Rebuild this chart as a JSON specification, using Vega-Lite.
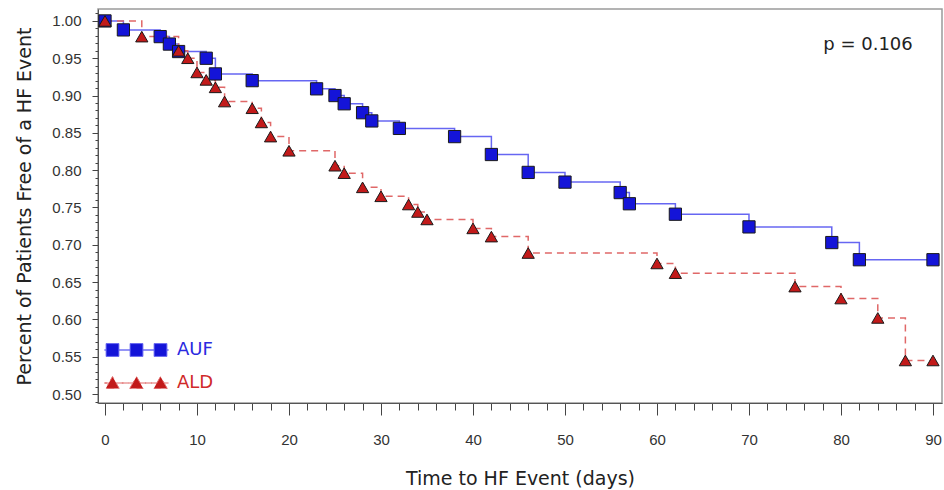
{
  "$schema": "https://vega.github.io/schema/vega-lite/v6.json",
  "width": 844,
  "height": 394,
  "autosize": {"type": "none"},
  "padding": {"left": 98, "top": 9, "right": 2, "bottom": 87},
  "background": "white",
  "config": {
    "view": {"stroke": "#9a9a9a", "strokeWidth": 1.5},
    "font": "Liberation Sans"
  },
  "datasets": {
    "km": [
      {"group": "AUF", "t": 0, "s": 1.0},
      {"group": "AUF", "t": 2, "s": 0.988},
      {"group": "AUF", "t": 6, "s": 0.979},
      {"group": "AUF", "t": 7, "s": 0.969},
      {"group": "AUF", "t": 8, "s": 0.959},
      {"group": "AUF", "t": 11, "s": 0.95},
      {"group": "AUF", "t": 12, "s": 0.929},
      {"group": "AUF", "t": 16, "s": 0.92},
      {"group": "AUF", "t": 23, "s": 0.909},
      {"group": "AUF", "t": 25, "s": 0.9},
      {"group": "AUF", "t": 26, "s": 0.889},
      {"group": "AUF", "t": 28, "s": 0.877},
      {"group": "AUF", "t": 29, "s": 0.866},
      {"group": "AUF", "t": 32, "s": 0.856},
      {"group": "AUF", "t": 38, "s": 0.845},
      {"group": "AUF", "t": 42, "s": 0.821},
      {"group": "AUF", "t": 46, "s": 0.797},
      {"group": "AUF", "t": 50, "s": 0.784},
      {"group": "AUF", "t": 56, "s": 0.77},
      {"group": "AUF", "t": 57, "s": 0.755},
      {"group": "AUF", "t": 62, "s": 0.741},
      {"group": "AUF", "t": 70, "s": 0.724},
      {"group": "AUF", "t": 79, "s": 0.703},
      {"group": "AUF", "t": 82, "s": 0.68},
      {"group": "AUF", "t": 90, "s": 0.68},
      {"group": "ALD", "t": 0, "s": 1.0},
      {"group": "ALD", "t": 4, "s": 0.979},
      {"group": "ALD", "t": 8, "s": 0.96},
      {"group": "ALD", "t": 9, "s": 0.95},
      {"group": "ALD", "t": 10, "s": 0.931},
      {"group": "ALD", "t": 11, "s": 0.921},
      {"group": "ALD", "t": 12, "s": 0.911},
      {"group": "ALD", "t": 13, "s": 0.892},
      {"group": "ALD", "t": 16, "s": 0.883},
      {"group": "ALD", "t": 17, "s": 0.864},
      {"group": "ALD", "t": 18, "s": 0.845},
      {"group": "ALD", "t": 20, "s": 0.826},
      {"group": "ALD", "t": 25, "s": 0.806},
      {"group": "ALD", "t": 26, "s": 0.796},
      {"group": "ALD", "t": 28, "s": 0.777},
      {"group": "ALD", "t": 30, "s": 0.765},
      {"group": "ALD", "t": 33, "s": 0.754},
      {"group": "ALD", "t": 34, "s": 0.744},
      {"group": "ALD", "t": 35, "s": 0.734},
      {"group": "ALD", "t": 40, "s": 0.722},
      {"group": "ALD", "t": 42, "s": 0.711},
      {"group": "ALD", "t": 46, "s": 0.689},
      {"group": "ALD", "t": 60, "s": 0.675},
      {"group": "ALD", "t": 62, "s": 0.662},
      {"group": "ALD", "t": 75, "s": 0.644},
      {"group": "ALD", "t": 80, "s": 0.628},
      {"group": "ALD", "t": 84, "s": 0.602},
      {"group": "ALD", "t": 87, "s": 0.545},
      {"group": "ALD", "t": 90, "s": 0.545}
    ]
  },
  "encoding": {
    "x": {
      "field": "t",
      "type": "quantitative",
      "scale": {"domain": [-0.76, 90.98], "nice": false, "zero": false},
      "axis": {
        "title": "Time to HF Event (days)",
        "titleFont": "DejaVu Sans",
        "titleFontSize": 19,
        "titleFontWeight": "normal",
        "titleColor": "#222222",
        "titlePadding": 22,
        "values": [0,2,4,6,8,10,12,14,16,18,20,22,24,26,28,30,32,34,36,38,40,42,44,46,48,50,52,54,56,58,60,62,64,66,68,70,72,74,76,78,80,82,84,86,88,90],
        "labelExpr": "datum.value % 10 === 0 ? datum.label : ''",
        "labelOverlap": false,
        "labelFlush": false,
        "labelFontSize": 15,
        "labelColor": "#333333",
        "labelPadding": 17,
        "tickColor": "#444444",
        "tickSize": {"condition": {"test": "datum.value % 10 === 0", "value": 12}, "value": 7},
        "domainColor": "#555555",
        "grid": false
      }
    },
    "y": {
      "field": "s",
      "type": "quantitative",
      "scale": {"domain": [0.488, 1.016], "nice": false, "zero": false},
      "axis": {
        "title": "Percent of Patients Free of a HF Event",
        "titleFont": "DejaVu Sans",
        "titleFontSize": 19,
        "titleFontWeight": "normal",
        "titleColor": "#222222",
        "titlePadding": 17,
        "values": [0.49,0.5,0.51,0.52,0.53,0.54,0.55,0.56,0.57,0.58,0.59,0.6,0.61,0.62,0.63,0.64,0.65,0.66,0.67,0.68,0.69,0.7,0.71,0.72,0.73,0.74,0.75,0.76,0.77,0.78,0.79,0.8,0.81,0.82,0.83,0.84,0.85,0.86,0.87,0.88,0.89,0.9,0.91,0.92,0.93,0.94,0.95,0.96,0.97,0.98,0.99,1.0,1.01],
        "labelExpr": "abs(datum.value * 20 - round(datum.value * 20)) < 0.001 ? format(datum.value, '.2f') : ''",
        "labelOverlap": false,
        "labelFlush": false,
        "labelFontSize": 15,
        "labelColor": "#333333",
        "labelPadding": 11,
        "tickColor": "#444444",
        "tickSize": {"condition": {"test": "abs(datum.value * 20 - round(datum.value * 20)) < 0.001", "value": 6}, "value": 3},
        "domainColor": "#555555",
        "grid": false
      }
    }
  },
  "layer": [
    {
      "data": {"name": "km"},
      "mark": {"type": "line", "interpolate": "step-after", "strokeWidth": 1.5},
      "encoding": {
        "stroke": {
          "field": "group",
          "type": "nominal",
          "scale": {"domain": ["AUF", "ALD"], "range": ["#6666f2", "#e06868"]},
          "legend": {
            "title": null,
            "orient": "none",
            "legendX": 6,
            "legendY": 333,
            "padding": 0,
            "symbolSize": 4096,
            "symbolStrokeWidth": 1,
            "clipHeight": 16,
            "labelOffset": 8,
            "labelFont": "DejaVu Sans",
            "labelFontSize": 18,
            "rowPadding": 15,
            "encode": {
              "symbols": {
                "update": {
                  "shape": {"signal": "datum.value === 'AUF' ? 'M-1,0L-0.95,0L-0.95,0.2L-0.55,0.2L-0.55,0L-0.2,0L-0.2,0.2L0.2,0.2L0.2,0L0.55,0L0.55,0.2L0.95,0.2L0.95,0L1,0L0.95,0L0.95,-0.2L0.55,-0.2L0.55,0L0.2,0L0.2,-0.2L-0.2,-0.2L-0.2,0L-0.55,0L-0.55,-0.2L-0.95,-0.2L-0.95,0L-1,0' : 'M-1,0L-0.8635,0L-0.96,0.17L-0.54,0.17L-0.6365,0L-0.1135,0L-0.21,0.17L0.21,0.17L0.1135,0L0.6365,0L0.54,0.17L0.96,0.17L0.8635,0L1,0L0.8635,0L0.75,-0.2L0.6365,0L0.1135,0L0,-0.2L-0.1135,0L-0.6365,0L-0.75,-0.2L-0.8635,0L-1,0'"},
                  "fill": {"signal": "datum.value === 'AUF' ? '#1414d8' : '#c21a1a'"},
                  "stroke": {"signal": "datum.value === 'AUF' ? '#3030e0' : '#b02020'"},
                  "strokeWidth": {"value": 1},
                  "strokeDash": {"value": [1, 0]},
                  "opacity": {"value": 1}
                }
              },
              "labels": {
                "update": {
                  "fill": {"signal": "datum.value === 'AUF' ? '#2a2ae0' : '#d02a2a'"}
                }
              }
            }
          }
        },
        "strokeDash": {
          "field": "group",
          "type": "nominal",
          "scale": {"domain": ["AUF", "ALD"], "range": [[1, 0], [7, 5]]},
          "legend": null
        }
      }
    },
    {
      "data": {"name": "km"},
      "transform": [{"filter": "datum.group === 'AUF'"}],
      "mark": {"type": "point", "shape": "square", "filled": true, "size": 150, "opacity": 1, "strokeWidth": 1, "fill": "#1414d8", "stroke": "#1a1a1a"}
    },
    {
      "data": {"name": "km"},
      "transform": [{"filter": "datum.group === 'ALD'"}],
      "mark": {"type": "point", "shape": "triangle-up", "filled": true, "size": 150, "opacity": 1, "strokeWidth": 1, "fill": "#c21a1a", "stroke": "#1a1a1a"}
    },
    {
      "data": {"name": "km"},
      "transform": [{"filter": "datum.group === 'AUF' && datum.t === 0"}],
      "mark": {"type": "text", "align": "right", "baseline": "middle", "fontSize": 18, "font": "DejaVu Sans", "fill": "#222222", "text": "p = 0.106"},
      "encoding": {
        "x": {"datum": 87.8, "type": "quantitative"},
        "y": {"datum": 0.968, "type": "quantitative"}
      }
    }
  ]
}
